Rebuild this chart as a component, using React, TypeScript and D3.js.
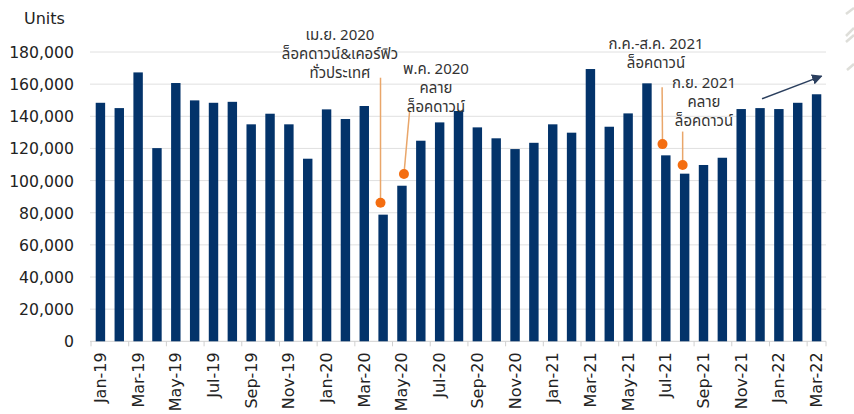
import React from "react";
import * as d3 from "d3";

const months = [
  "Jan-19","Feb-19","Mar-19","Apr-19","May-19","Jun-19","Jul-19","Aug-19","Sep-19","Oct-19","Nov-19","Dec-19",
  "Jan-20","Feb-20","Mar-20","Apr-20","May-20","Jun-20","Jul-20","Aug-20","Sep-20","Oct-20","Nov-20","Dec-20",
  "Jan-21","Feb-21","Mar-21","Apr-21","May-21","Jun-21","Jul-21","Aug-21","Sep-21","Oct-21","Nov-21","Dec-21",
  "Jan-22","Feb-22","Mar-22",
];
const units = [
  148400,145100,167300,120200,160700,149900,148400,149000,135000,141600,135000,113600,
  144300,138300,146400,78800,96800,124800,136200,143300,133100,126300,119600,123500,
  135000,129800,169400,133500,141800,160500,115700,104300,109700,114200,144500,145100,
  144500,148400,153700,
];
const yTicks = [0,20000,40000,60000,80000,100000,120000,140000,160000,180000];

const annotations = [
  { month: "Apr-20", dot: 86200, top: 164000, lines: ["เม.ย. 2020", "ล็อคดาวน์&เคอร์ฟิว", "ทั่วประเทศ"] },
  { month: "May-20", dot: 104100, top: 143500, lines: ["พ.ค. 2020", "คลาย", "ล็อคดาวน์"] },
  { month: "Jul-21", dot: 122700, top: 158000, lines: ["ก.ค.-ส.ค. 2021", "ล็อคดาวน์"] },
  { month: "Aug-21", dot: 109700, top: 130500, lines: ["ก.ย. 2021", "คลาย", "ล็อคดาวน์"] },
];
// layout of annotation pieces (offsets in px)
const annoLayout = [
  { dotDx: -2.6, topDx: -2.6, tx: 340, ty: 40 },
  { dotDx: 2, topDx: 7.7, tx: 436, ty: 74 },
  { dotDx: -3.3, topDx: -3.7, tx: 656, ty: 49 },
  { dotDx: -2, topDx: -2, tx: 704, ty: 88 },
];
const trend = { from: "Dec-21", fromVal: 150900, to: "Mar-22", toVal: 165000 };

const W = 854, H = 414;
const AXFONT = "'DejaVu Sans', Verdana, sans-serif";
const THFONT = "'Noto Sans', 'Noto Sans Thai', Tahoma, sans-serif";

export default function App() {
  const x = d3.scaleBand<string>().domain(months).range([91, 826]).paddingInner(0.5).paddingOuter(0.25);
  const y = d3.scaleLinear().domain([0, 180000]).range([341.3, 52]);
  const bw = x.bandwidth();
  const cx = (m: string) => (x(m) as number) + bw / 2;
  const step = x.step();
  const fmt = d3.format(",");
  const [x0, x1] = [90, 826];

  return (
    <svg width={W} height={H} style={{ position: "absolute", left: 0, top: 0, background: "#fff" }} fontFamily={AXFONT}>
      <defs>
        <marker id="ah" viewBox="0 0 10 10" refX="9" refY="5" markerWidth="7" markerHeight="7" orient="auto">
          <path d="M0,0 L10,5 L0,10 z" fill="#2b3f5e" />
        </marker>
      </defs>
      {/* gridlines */}
      {yTicks.map((t) => (
        <line key={t} x1={x0} x2={x1} y1={y(t)} y2={y(t)} stroke={t === 0 ? "#d0d0d0" : "#e0e0e0"} strokeWidth={1} />
      ))}
      {/* y labels */}
      {yTicks.map((t) => (
        <text key={"l" + t} x={74} y={y(t) + 6} textAnchor="end" fontSize={15.7} fill="#222">
          {fmt(t)}
        </text>
      ))}
      <text x={24} y={24} fontSize={16} fill="#222">Units</text>
      {/* bars */}
      {months.map((m, i) => (
        <rect key={m} x={x(m)} y={y(units[i])} width={bw} height={y(0) - y(units[i])} fill="#03336a" />
      ))}
      {/* x ticks */}
      {months.map((m, i) =>
        i % 2 === 0 ? (
          <line key={"t" + m} x1={(x(m) as number) - (step - bw) / 2} x2={(x(m) as number) - (step - bw) / 2} y1={y(0)} y2={y(0) + 5} stroke="#d0d0d0" />
        ) : null
      )}
      <line x1={826} x2={826} y1={y(0)} y2={y(0) + 5} stroke="#d0d0d0" />
      {/* x labels */}
      {months.map((m, i) =>
        i % 2 === 0 ? (
          <text key={"x" + m} transform={`translate(${cx(m) + 5.5},${y(0) + 11}) rotate(-90)`} textAnchor="end" fontSize={16} fill="#222">
            {m}
          </text>
        ) : null
      )}
      {/* annotations */}
      {annotations.map((a, i) => {
        const L = annoLayout[i];
        const c = cx(a.month);
        return (
          <g key={"a" + i}>
            <line x1={c + L.topDx} y1={y(a.top)} x2={c + L.dotDx} y2={y(a.dot)} stroke="#e9a66a" strokeWidth={1.5} />
            <circle cx={c + L.dotDx} cy={y(a.dot)} r={5} fill="#f46d10" />
            {a.lines.map((s, j) => (
              <text key={j} x={L.tx} y={L.ty + j * 19} textAnchor="middle" fontSize={15} fill="#333" fontFamily={THFONT}>
                {s}
              </text>
            ))}
          </g>
        );
      })}
      {/* trend arrow */}
      <line x1={cx(trend.from) + 2} y1={y(trend.fromVal)} x2={cx(trend.to) + 5} y2={y(trend.toVal)} stroke="#2b3f5e" strokeWidth={1.5} markerEnd="url(#ah)" />
      {/* faint slide decorations at right edge */}
      <g stroke="#d6d6d0" strokeWidth={2.5} opacity={0.8}>
        <line x1={846} y1={14} x2={854} y2={8} />
        <line x1={846} y1={36} x2={854} y2={28} />
        <line x1={846} y1={42} x2={854} y2={35} />
        <line x1={847} y1={70} x2={854} y2={64} />
      </g>
    </svg>
  );
}
